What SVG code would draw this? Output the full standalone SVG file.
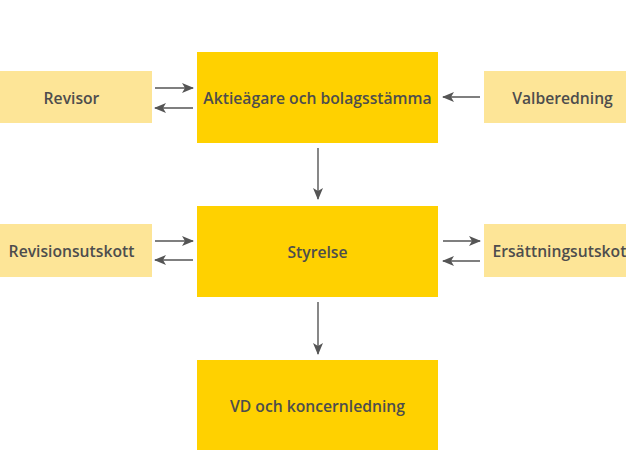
<svg xmlns="http://www.w3.org/2000/svg" width="626" height="450" viewBox="0 0 626 450">
<style>
.main{fill:#FFD100}
.side{fill:#FDE597}
text{font-family:"Open Sans","Liberation Sans",sans-serif;font-size:15.7px;font-weight:600;fill:#4d4d4d;text-anchor:middle;dominant-baseline:central}
.c{stroke:#555;stroke-width:1.4;fill:none;marker-end:url(#ah)}
</style>
<defs>
<marker id="ah" viewBox="0 0 12 10" refX="11" refY="5" markerWidth="12" markerHeight="10" markerUnits="userSpaceOnUse" orient="auto">
<path d="M0,0 L12,5 L0,10 L3,5 Z" fill="#555"/>
</marker>
</defs>
<rect width="626" height="450" fill="#fff"/>
<g id="revisor"><rect class="side" x="-9" y="71" width="161" height="52"/><text x="71.5" y="98">Revisor</text></g>
<g id="aktieagare"><rect class="main" x="197" y="52" width="241" height="91"/><text x="317.5" y="98">Aktieägare och bolagsstämma</text></g>
<g id="valberedning"><rect class="side" x="484" y="71" width="157" height="52"/><text x="562.5" y="98">Valberedning</text></g>
<g id="revisionsutskott"><rect class="side" x="-9" y="224" width="161" height="53"/><text x="71.5" y="251">Revisionsutskott</text></g>
<g id="styrelse"><rect class="main" x="197" y="206" width="241" height="91"/><text x="317.5" y="252">Styrelse</text></g>
<g id="ersattningsutskott"><rect class="side" x="484" y="224" width="157" height="53"/><text x="562.5" y="251">Ersättningsutskott</text></g>
<g id="vd"><rect class="main" x="197" y="360" width="241" height="91"/><text x="317.5" y="406">VD och koncernledning</text></g>
<g id="connectors">
<line class="c" x1="155" y1="88" x2="193" y2="88"/>
<line class="c" x1="193" y1="108" x2="155" y2="108"/>
<line class="c" x1="480" y1="97" x2="443" y2="97"/>
<line class="c" x1="318" y1="148" x2="318" y2="199"/>
<line class="c" x1="155" y1="241" x2="193" y2="241"/>
<line class="c" x1="193" y1="260" x2="155" y2="260"/>
<line class="c" x1="443" y1="241" x2="480" y2="241"/>
<line class="c" x1="480" y1="261" x2="443" y2="261"/>
<line class="c" x1="318" y1="302" x2="318" y2="354"/>
</g>
</svg>
